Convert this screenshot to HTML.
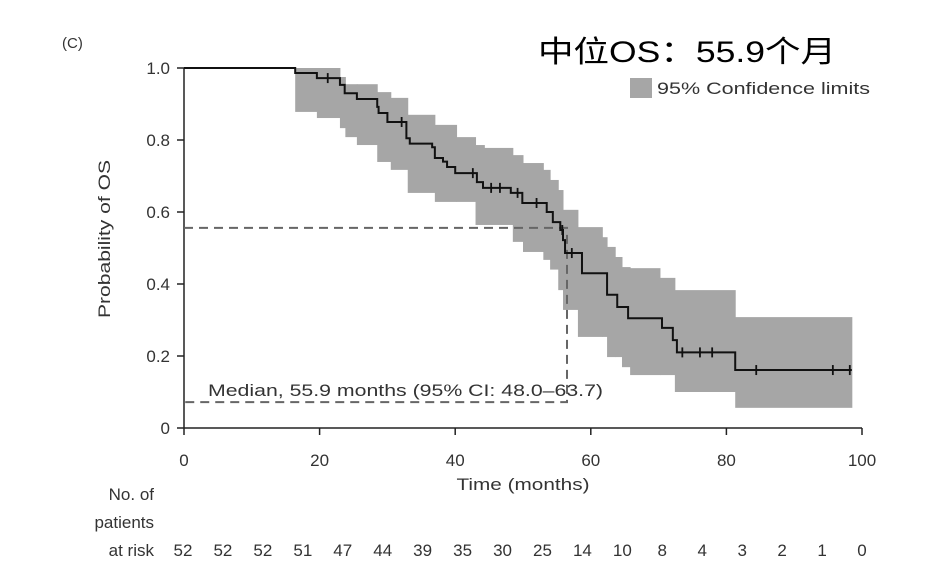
<!DOCTYPE html>
<html><head><meta charset="utf-8"><style>
body{margin:0;background:#fff;}
svg text{font-family:"Liberation Sans","Noto Sans CJK SC",sans-serif;fill:#333;}
</style></head><body>
<svg width="949" height="577" viewBox="0 0 949 577">
<g id="band"></g>
<g id="axes"></g>
<g id="med"></g>
<g id="curve"></g>
<text x="62" y="48" font-size="15">(C)</text>
<text x="538" y="62" font-size="30" textLength="298" lengthAdjust="spacingAndGlyphs" style="fill:#000">中位OS：55.9个月</text>
<rect x="630" y="78" width="22" height="20" fill="#a6a6a6"/>
<text x="657" y="94" font-size="17" textLength="213" lengthAdjust="spacingAndGlyphs">95% Confidence limits</text>
<text x="208" y="396" font-size="17" textLength="395" lengthAdjust="spacingAndGlyphs">Median, 55.9 months (95% CI: 48.0–63.7)</text>
<text x="523" y="490" font-size="17" textLength="133" lengthAdjust="spacingAndGlyphs" text-anchor="middle">Time (months)</text>
<text transform="translate(110,239) rotate(-90)" font-size="17" textLength="158" lengthAdjust="spacingAndGlyphs" text-anchor="middle">Probability of OS</text>
<g>
<text x="154" y="500" font-size="17" text-anchor="end">No. of</text>
<text x="154" y="528" font-size="17" text-anchor="end">patients</text>
<text x="154" y="556" font-size="17" text-anchor="end">at risk</text>
</g>
<g id="risk"></g>
</svg>
<script>
const kmT=[0,16.4,19.6,23,23.7,25.5,28.5,28.7,30,32.8,33.3,36.6,37,38.2,38.8,40,43.2,44.1,48.2,49.9,53.5,54.4,55.5,55.9,56.2,58.7,62.4,63.9,65.5,70.5,72.1,72.7,81.3];
const kmS=[1,0.986,0.972,0.953,0.93,0.914,0.892,0.875,0.85,0.805,0.79,0.78,0.75,0.74,0.725,0.708,0.683,0.667,0.653,0.625,0.6,0.572,0.55,0.522,0.486,0.43,0.37,0.336,0.305,0.278,0.244,0.21,0.161];
const kmEnd=98.5;
const censorT=[21.2,32.1,42.6,45.3,46.6,49.2,52,55.8,57.2,73.5,76.1,77.9,84.4,95.7,98.2];
const ciT=[16.4,19.6,23,23.8,25.5,28.5,30.5,33,37,40.2,43,44.3,48.5,50,53,54,55.2,55.9,58.1,61.7,62.4,63.6,64.6,65.8,70.2,72.4,81.3];
const ciHi=[1,1,0.975,0.955,0.955,0.933,0.917,0.87,0.842,0.808,0.786,0.778,0.758,0.736,0.717,0.689,0.661,0.606,0.558,0.53,0.503,0.475,0.447,0.444,0.417,0.383,0.308];
const ciLo=[0.878,0.861,0.833,0.808,0.786,0.739,0.717,0.653,0.628,0.628,0.564,0.564,0.517,0.489,0.467,0.44,0.383,0.328,0.253,0.253,0.197,0.197,0.169,0.147,0.147,0.1,0.056];
const ciEnd=98.5;
const xTicks=[0,20,40,60,80,100];
const yTicks=[0,0.2,0.4,0.6,0.8,1.0];
const yTickLabels=["0","0.2","0.4","0.6","0.8","1.0"];
const riskN=[52,52,52,51,47,44,39,35,30,25,14,10,8,4,3,2,1,0];
const medianT=55.9, medianS=0.556, medianLoS=0.072;
const X=m=>184+m*6.78, Y=p=>428-p*360;
const NS="http://www.w3.org/2000/svg";
function mk(tag,attrs,parent){const e=document.createElementNS(NS,tag);for(const k in attrs)e.setAttribute(k,attrs[k]);parent.appendChild(e);return e;}
const band=document.getElementById('band');
for(let i=0;i<ciT.length;i++){
 const t1=i+1<ciT.length?ciT[i+1]:ciEnd;
 const r=mk('rect',{x:X(ciT[i]),y:Y(ciHi[i]),width:X(t1)-X(ciT[i])+0.5,height:Y(ciLo[i])-Y(ciHi[i]),fill:'#a6a6a6'},band);
 
 
}
const ax=document.getElementById('axes');
mk('line',{x1:184,y1:Y(1),x2:184,y2:428,stroke:'#222','stroke-width':1.5},ax);
mk('line',{x1:184,y1:428,x2:X(100),y2:428,stroke:'#222','stroke-width':1.5},ax);
xTicks.forEach(v=>{mk('line',{x1:X(v),y1:428,x2:X(v),y2:435,stroke:'#222','stroke-width':1.5},ax);
 const t=mk('text',{x:X(v),y:466,'font-size':17,'text-anchor':'middle'},ax);t.textContent=v;
 
 });
yTicks.forEach((v,i)=>{mk('line',{x1:177,y1:Y(v),x2:184,y2:Y(v),stroke:'#222','stroke-width':1.5},ax);
 const t=mk('text',{x:170,y:Y(v)+6,'font-size':17,'text-anchor':'end'},ax);t.textContent=yTickLabels[i];
 
 });
const md=document.getElementById('med');
const ds={stroke:'#666','stroke-width':2,'stroke-dasharray':'9,6',fill:'none'};
mk('path',Object.assign({d:`M184 ${Y(medianS)}H${X(medianT)+4}V${Y(medianLoS)}H184`},ds),md);
const cv=document.getElementById('curve');
let d=`M${X(kmT[0])} ${Y(kmS[0])}`;
for(let i=1;i<kmT.length;i++){d+=`H${X(kmT[i])}V${Y(kmS[i])}`;}
d+=`H${X(kmEnd)}`;
mk('path',{d:d,stroke:'#111','stroke-width':2,fill:'none'},cv);
function sAt(t){let s=1;for(let i=0;i<kmT.length;i++){if(kmT[i]<=t)s=kmS[i];}return s;}
censorT.forEach(t=>{const l=mk('line',{x1:X(t),x2:X(t),y1:Y(sAt(t))-5,y2:Y(sAt(t))+5,stroke:'#111','stroke-width':1.8},cv);
 
 });
const rk=document.getElementById('risk');
riskN.forEach((n,i)=>{const t=mk('text',{x:183+i*(679/17),y:556,'font-size':17,'text-anchor':'middle'},rk);t.textContent=n;
 
 });
</script>
</body></html>
